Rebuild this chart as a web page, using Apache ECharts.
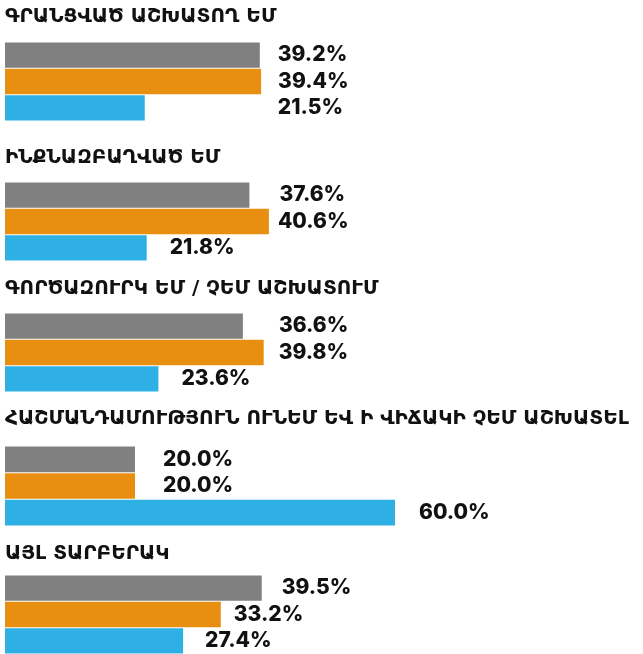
<!DOCTYPE html>
<html>
<head>
<meta charset="utf-8">
<script src="https://cdn.jsdelivr.net/npm/echarts@6/dist/echarts.min.js"></script>
<style>
  html, body { margin: 0; padding: 0; background: #fff; }
  #chart { width: 643px; height: 654px; }
</style>
</head>
<body>
<div id="chart"></div>
<script>
// Employment status groups and the three compared shares (%)
const groups = [
  'ԳՐԱՆՑՎԱԾ ԱՇԽԱՏՈՂ ԵՄ',
  'ԻՆՔՆԱԶԲԱՂՎԱԾ ԵՄ',
  'ԳՈՐԾԱԶՈՒՐԿ ԵՄ / ՉԵՄ ԱՇԽԱՏՈՒՄ',
  'ՀԱՇՄԱՆԴԱՄՈՒԹՅՈՒՆ ՈՒՆԵՄ ԵՎ Ի ՎԻՃԱԿԻ ՉԵՄ ԱՇԽԱՏԵԼ',
  'ԱՅԼ ՏԱՐԲԵՐԱԿ'
];
const grayValues   = [39.2, 37.6, 36.6, 20.0, 39.5];
const orangeValues = [39.4, 40.6, 39.8, 20.0, 33.2];
const blueValues   = [21.5, 21.8, 23.6, 60.0, 27.4];

// Layout: vertical placement of each block and gap between bar end and its label
const barColors = ['#808080', '#E88F12', '#2FB0E4'];
const blockTop = [42, 182, 313, 446, 575];
const blockHeight = [79, 79, 79, 80, 79];
const titleMid = [18, 159, 290, 420, 555];
const labelGap = [
  [18, 17, 133],
  [30, 9, 23],
  [36, 15, 23],
  [28, 28, 24],
  [20, 13, 22]
];

const chart = echarts.init(document.getElementById('chart'), null, { renderer: 'canvas' });

const titles = [], grids = [], xAxes = [], yAxes = [], series = [];
groups.forEach((name, i) => {
  titles.push({
    text: name,
    left: 5,
    top: titleMid[i] - 11,
    padding: 0,
    textStyle: {
      fontFamily: '"DejaVu Sans", sans-serif',
      fontWeight: 'bold',
      fontSize: 20,
      color: '#111'
    }
  });
  grids.push({ left: 5, width: 585, top: blockTop[i], height: blockHeight[i] });
  xAxes.push({ type: 'value', gridIndex: i, min: 0, max: 90, show: false });
  yAxes.push({
    type: 'category', gridIndex: i, inverse: true, show: false,
    data: ['a', 'b', 'c']
  });
  const vals = [grayValues[i], orangeValues[i], blueValues[i]];
  series.push({
    type: 'bar',
    xAxisIndex: i,
    yAxisIndex: i,
    barCategoryGap: '4%',
    silent: true,
    data: vals.map((v, j) => ({
      value: v,
      itemStyle: { color: barColors[j] },
      label: { distance: labelGap[i][j] }
    })),
    label: {
      show: true,
      position: 'right',
      formatter: p => p.value.toFixed(1) + '%',
      fontFamily: 'Inter, sans-serif',
      fontWeight: 800,
      fontSize: 21,
      color: '#111'
    }
  });
});

chart.setOption({
  animation: false,
  backgroundColor: '#fff',
  title: titles,
  grid: grids,
  xAxis: xAxes,
  yAxis: yAxes,
  series: series
});
</script>
</body>
</html>
